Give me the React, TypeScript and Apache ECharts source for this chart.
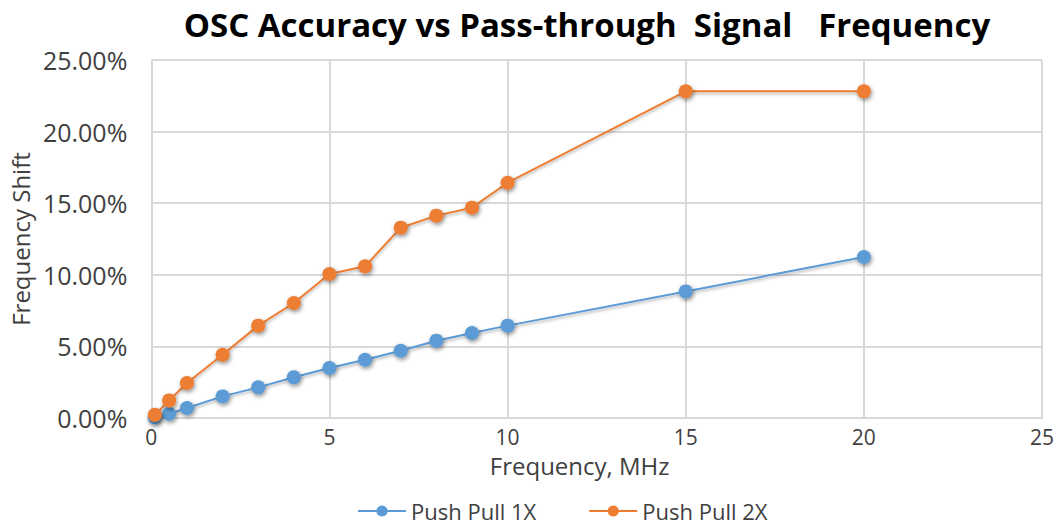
import React, { useEffect, useRef } from "react";
import * as echarts from "echarts";

const freq1X = [0.1, 0.5, 1, 2, 3, 4, 5, 6, 7, 8, 9, 10, 15, 20];
const shift1X = [0.05, 0.3, 0.7, 1.51, 2.14, 2.84, 3.49, 4.07, 4.7, 5.4, 5.94, 6.45, 8.84, 11.24];
const freq2X = [0.1, 0.5, 1, 2, 3, 4, 5, 6, 7, 8, 9, 10, 15, 20];
const shift2X = [0.22, 1.23, 2.44, 4.42, 6.45, 8.03, 10.06, 10.59, 13.29, 14.13, 14.69, 16.43, 22.81, 22.81];
const seriesNames = ["Push Pull 1X", "Push Pull 2X"];
const titleText = "OSC Accuracy vs Pass-through\u00a0 Signal\u00a0\u00a0 Frequency";

const FONT = "'Open Sans', Lato, sans-serif";

export default function App() {
  const ref = useRef<HTMLDivElement>(null);
  useEffect(() => {
    document.body.style.margin = "0";
    const chart = echarts.init(ref.current!, null, { renderer: "svg" });
    const shadow = { shadowBlur: 4, shadowColor: "rgba(0,0,0,0.45)", shadowOffsetX: 1, shadowOffsetY: 2 };
    chart.setOption({
      animation: false,
      backgroundColor: "#ffffff",
      textStyle: { fontFamily: FONT },
      title: {
        text: titleText,
        left: 582,
        textAlign: "center",
        top: 3,
        textStyle: { fontFamily: FONT, fontWeight: "bold", fontSize: 33, color: "#000000" },
      },
      legend: {
        top: 498,
        left: 357,
        padding: 0,
        itemWidth: 48,
        itemHeight: 14,
        itemGap: 52,
        textStyle: { fontFamily: FONT, fontSize: 22, color: "#404040", lineHeight: 26 },
        data: seriesNames,
      },
      grid: { left: 149, right: 18, top: 60, bottom: 107, containLabel: false },
      xAxis: {
        type: "value",
        min: 0,
        max: 25,
        interval: 5,
        name: "Frequency, MHz",
        nameLocation: "middle",
        nameGap: 35,
        nameTextStyle: { fontFamily: FONT, fontSize: 24, color: "#404040", padding: [0, 34, 0, 0] },
        axisLine: { show: true, lineStyle: { color: "#d9d9d9", width: 2 } },
        axisTick: { show: false },
        axisLabel: { fontFamily: FONT, fontSize: 21, color: "#404040", margin: 8 },
        splitLine: { show: true, lineStyle: { color: "#d9d9d9", width: 2 } },
      },
      yAxis: {
        type: "value",
        min: 0,
        max: 25,
        interval: 5,
        name: "Frequency Shift",
        nameLocation: "middle",
        nameGap: 117,
        nameTextStyle: { fontFamily: FONT, fontSize: 24, color: "#404040" },
        axisLine: { show: false },
        axisTick: { show: false },
        axisLabel: {
          fontFamily: FONT,
          fontSize: 25,
          color: "#404040",
          margin: 24,
          formatter: (v: number) => v.toFixed(2) + "%",
        },
        splitLine: { show: true, lineStyle: { color: "#d9d9d9", width: 2 } },
      },
      series: [
        {
          name: seriesNames[0],
          type: "line",
          data: freq1X.map((x, i) => [x, shift1X[i]]),
          symbol: "circle",
          symbolSize: 14,
          color: "#5B9BD5",
          lineStyle: { width: 2, color: "#5B9BD5", shadowBlur: 3, shadowColor: "rgba(0,0,0,0.3)", shadowOffsetY: 2 },
          itemStyle: { color: "#5B9BD5", ...shadow },
        },
        {
          name: seriesNames[1],
          type: "line",
          data: freq2X.map((x, i) => [x, shift2X[i]]),
          symbol: "circle",
          symbolSize: 14,
          color: "#ED7D31",
          lineStyle: { width: 2, color: "#ED7D31", shadowBlur: 3, shadowColor: "rgba(0,0,0,0.3)", shadowOffsetY: 2 },
          itemStyle: { color: "#ED7D31", ...shadow },
        },
      ],
    });
    return () => chart.dispose();
  }, []);
  return <div ref={ref} style={{ width: 1060, height: 525 }} />;
}
